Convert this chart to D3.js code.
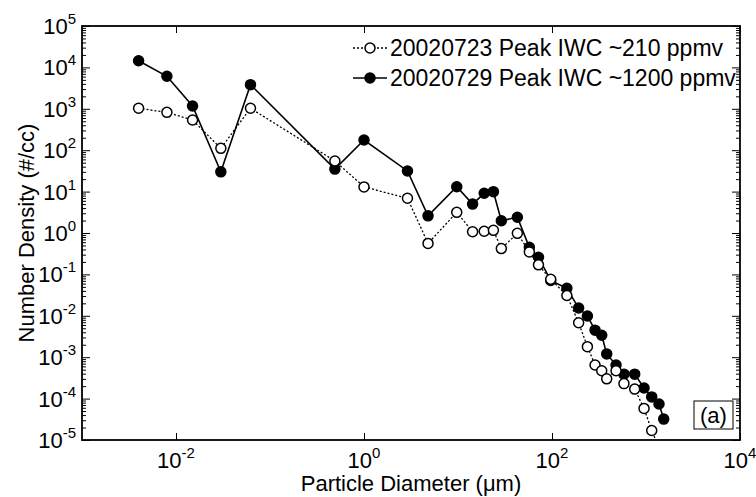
<!DOCTYPE html>
<html>
<head>
<meta charset="utf-8">
<script src="https://cdn.jsdelivr.net/npm/d3@7"></script>
<style>
  body { margin: 0; background: #fff; }
  text { font-family: "Liberation Sans", Arial, sans-serif; fill: #000; }
</style>
</head>
<body>
<div id="chart"></div>
<script>
// particle diameter (um) bins
const diameter = [0.004, 0.008, 0.015, 0.03, 0.062, 0.49, 1.0, 2.9, 4.8, 9.7, 14.3, 19, 23.8, 28.9, 42.8, 57.4, 71.8, 96.9, 144, 192, 238, 287, 338, 382, 480, 583, 758, 953, 1150, 1375, 1543];
// 20020723, open circles, dotted
const density0723 = [1030, 820, 536, 111, 1030, 55, 13, 6.9, 0.56, 3.16, 1.07, 1.1, 1.16, 0.42, 0.98, 0.35, 0.17, 0.076, 0.031, 0.0068, 0.0018, 0.00065, 0.00047, 0.0003, 0.00047, 0.00023, 0.00017, 5.8e-5, 1.7e-5, 6.5e-6, null];
// 20020729, filled circles, solid
const density0729 = [14500, 6100, 1170, 30, 3830, 35, 176, 31.5, 2.6, 13.1, 5.0, 9.1, 9.95, 1.98, 2.4, 0.45, 0.26, 0.071, 0.046, 0.0154, 0.0099, 0.0045, 0.0034, 0.0012, 0.00065, 0.00039, 0.00039, 0.00018, 0.00011, 7.4e-5, 3.2e-5];
const seriesNames = ["20020723 Peak IWC ~210 ppmv", "20020729 Peak IWC ~1200 ppmv"];
const xTickExp = [-2, 0, 2, 4];
const yTickExp = [-5, -4, -3, -2, -1, 0, 1, 2, 3, 4, 5];

const width = 756, height = 497;
const pLeft = 82, pRight = 740, pTop = 26, pBottom = 440;

const x = d3.scaleLog().domain([1e-3, 1e4]).range([pLeft, pRight]);
const y = d3.scaleLog().domain([1e-5, 1e5]).range([pBottom, pTop]);

const svg = d3.select("#chart").append("svg")
    .attr("width", width)
    .attr("height", height);

svg.append("defs").append("clipPath").attr("id", "plotclip")
  .append("rect")
    .attr("x", pLeft).attr("y", pTop)
    .attr("width", pRight - pLeft).attr("height", pBottom - pTop);

// minor ticks for y (2..9 in each decade)
const yMinor = [];
for (let e = -5; e < 5; e++) {
  for (let k = 2; k <= 9; k++) yMinor.push(k * Math.pow(10, e));
}
const yMajor = yTickExp.map(e => Math.pow(10, e));
const xMajor = xTickExp.map(e => Math.pow(10, e));

function styleAxis(g) {
  g.selectAll("path").remove();
  g.selectAll("text").remove();
  g.selectAll("line").attr("stroke", "#000").attr("stroke-width", 1);
}

// y ticks, inward
svg.append("g").attr("transform", `translate(${pLeft},0)`)
  .call(d3.axisLeft(y).tickValues(yMinor).tickSize(-4)).call(styleAxis);
svg.append("g").attr("transform", `translate(${pLeft},0)`)
  .call(d3.axisLeft(y).tickValues(yMajor).tickSize(-8)).call(styleAxis);
svg.append("g").attr("transform", `translate(${pRight},0)`)
  .call(d3.axisRight(y).tickValues(yMinor).tickSize(-4)).call(styleAxis);
svg.append("g").attr("transform", `translate(${pRight},0)`)
  .call(d3.axisRight(y).tickValues(yMajor).tickSize(-8)).call(styleAxis);
// x ticks, inward
svg.append("g").attr("transform", `translate(0,${pBottom})`)
  .call(d3.axisBottom(x).tickValues(xMajor).tickSize(-7)).call(styleAxis);
svg.append("g").attr("transform", `translate(0,${pTop})`)
  .call(d3.axisTop(x).tickValues(xMajor).tickSize(-7)).call(styleAxis);

// box
svg.append("rect")
    .attr("x", pLeft).attr("y", pTop)
    .attr("width", pRight - pLeft).attr("height", pBottom - pTop)
    .attr("fill", "none").attr("stroke", "#000").attr("stroke-width", 1.8);

// tick labels
const ytl = svg.append("g").selectAll("text").data(yTickExp).enter().append("text")
    .attr("x", pLeft - 6)
    .attr("y", d => y(Math.pow(10, d)) + 8)
    .attr("text-anchor", "end")
    .attr("font-size", 22);
ytl.append("tspan").text("10");
ytl.append("tspan").attr("dy", -10).attr("font-size", 15).text(d => d);

const xtl = svg.append("g").selectAll("text").data(xTickExp).enter().append("text")
    .attr("x", d => x(Math.pow(10, d)))
    .attr("y", 468)
    .attr("text-anchor", "middle")
    .attr("font-size", 22);
xtl.append("tspan").text("10");
xtl.append("tspan").attr("dy", -10).attr("font-size", 15).text(d => d);

// axis titles
svg.append("text")
    .attr("transform", `translate(34,${(pTop + pBottom) / 2}) rotate(-90)`)
    .attr("text-anchor", "middle")
    .attr("font-size", 22)
    .text("Number Density (#/cc)");
svg.append("text")
    .attr("x", (pLeft + pRight) / 2)
    .attr("y", 491)
    .attr("text-anchor", "middle")
    .attr("font-size", 22)
    .text("Particle Diameter (\u03bcm)");

// series
const plot = svg.append("g").attr("clip-path", "url(#plotclip)");
const series = [
  { name: seriesNames[0], values: density0723, dash: "2,2", lw: 1.3, fill: "#fff" },
  { name: seriesNames[1], values: density0729, dash: null, lw: 1.6, fill: "#000" }
];
const line = d3.line()
    .defined(d => d[1] != null)
    .x(d => x(d[0]))
    .y(d => y(d[1]));

// filled series first, open on top
[series[1], series[0]].forEach(s => {
  const pts = diameter.map((d, i) => [d, s.values[i]]);
  plot.append("path")
      .datum(pts)
      .attr("d", line)
      .attr("fill", "none")
      .attr("stroke", "#000")
      .attr("stroke-width", s.lw)
      .attr("stroke-dasharray", s.dash);
  plot.selectAll(null)
      .data(pts.filter(p => p[1] != null))
      .enter().append("circle")
      .attr("cx", p => x(p[0]))
      .attr("cy", p => y(p[1]))
      .attr("r", 5)
      .attr("fill", s.fill)
      .attr("stroke", "#000")
      .attr("stroke-width", 1.5);
});

// legend (no frame)
const legend = svg.append("g");
series.forEach((s, i) => {
  const ly = 48 + i * 30;
  legend.append("line")
      .attr("x1", 353).attr("x2", 387)
      .attr("y1", ly).attr("y2", ly)
      .attr("stroke", "#000")
      .attr("stroke-width", s.lw)
      .attr("stroke-dasharray", s.dash);
  legend.append("circle")
      .attr("cx", 370).attr("cy", ly).attr("r", 5)
      .attr("fill", s.fill).attr("stroke", "#000").attr("stroke-width", 1.5);
  legend.append("text")
      .attr("x", 390).attr("y", ly + 8)
      .attr("font-size", 23)
      .text(s.name);
});

// panel label
svg.append("rect")
    .attr("x", 694).attr("y", 401)
    .attr("width", 39).attr("height", 28)
    .attr("fill", "#fff").attr("stroke", "#000").attr("stroke-width", 1);
svg.append("text")
    .attr("x", 713.5).attr("y", 423)
    .attr("text-anchor", "middle")
    .attr("font-size", 22)
    .text("(a)");
</script>
</body>
</html>
